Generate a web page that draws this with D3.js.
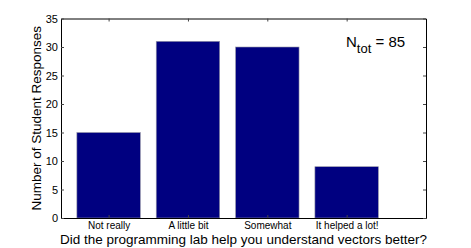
<!DOCTYPE html>
<html>
<head>
<meta charset="utf-8">
<script src="https://cdn.jsdelivr.net/npm/d3@7"></script>
<style>
  body { margin: 0; background: #fff; }
  text { font-family: "Liberation Sans", Arial, sans-serif; fill: #000; }
</style>
</head>
<body>
<svg id="chart" width="471" height="248"></svg>
<script>
// data
var categories = ['Not really', 'A little bit', 'Somewhat', 'It helped a lot!'];
var responses = [15, 31, 30, 9];
var yTicks = [0, 5, 10, 15, 20, 25, 30, 35];
var nTotal = 85;

var width = 471;
var height = 248;
var margin = {top: 18.5, right: 45, bottom: 30, left: 61};
var barWidth = 0.8;

var svg = d3.select('#chart');

var x = d3.scaleLinear()
    .domain([0.4, 5])
    .range([margin.left, width - margin.right]);

var y = d3.scaleLinear()
    .domain([0, 35])
    .range([height - margin.bottom, margin.top]);

// bars
svg.selectAll('rect.bar')
    .data(responses)
    .enter()
    .append('rect')
        .attr('class', 'bar')
        .attr('x', function (d, i) { return x(i + 1 - barWidth / 2); })
        .attr('y', function (d) { return y(d); })
        .attr('width', function (d, i) { return x(i + 1 + barWidth / 2) - x(i + 1 - barWidth / 2); })
        .attr('height', function (d) { return y(0) - y(d); })
        .attr('fill', '#000080')
        .attr('stroke', '#9a9aa8')
        .attr('stroke-width', 0.6);

// axes (ticks pointing inward, like matlab)
var xPos = categories.map(function (d, i) { return i + 1; });

var xBottom = svg.append('g')
    .attr('transform', 'translate(0,' + y(0) + ')')
    .call(d3.axisBottom(x).tickValues(xPos).tickSizeInner(-3).tickSizeOuter(0)
        .tickFormat(function (d) { return categories[d - 1]; }));
xBottom.selectAll('text').attr('dy', 0).attr('y', 11).style('font-size', '10px');

var xTop = svg.append('g')
    .attr('transform', 'translate(0,' + y(35) + ')')
    .call(d3.axisTop(x).tickValues(xPos).tickSizeInner(-3).tickSizeOuter(0).tickFormat(''));

var yLeft = svg.append('g')
    .attr('transform', 'translate(' + x(0.4) + ',0)')
    .call(d3.axisLeft(y).tickValues(yTicks).tickSizeInner(-3).tickSizeOuter(0));
yLeft.selectAll('text').attr('x', -3).style('font-size', '11px');

var yRight = svg.append('g')
    .attr('transform', 'translate(' + x(5) + ',0)')
    .call(d3.axisRight(y).tickValues(yTicks).tickSizeInner(-3).tickSizeOuter(0).tickFormat(''));

svg.selectAll('.domain').attr('stroke', '#000').attr('stroke-width', 1);
svg.selectAll('.tick line').attr('stroke', '#444');
svg.selectAll('.tick text').attr('font-family', '"Liberation Sans", Arial, sans-serif').attr('fill', '#000');

// axis labels
svg.append('text')
    .attr('text-anchor', 'middle')
    .attr('x', x(2.7))
    .attr('y', 244)
    .style('font-size', '13.5px')
    .text('Did the programming lab help you understand vectors better?');

svg.append('text')
    .attr('text-anchor', 'middle')
    .attr('transform', 'translate(41,' + y(17.5) + ') rotate(-90)')
    .style('font-size', '13.5px')
    .text('Number of Student Responses');

// N_tot annotation
var note = svg.append('text')
    .attr('x', 346)
    .attr('y', 47)
    .style('font-size', '15px');
note.append('tspan').text('N');
note.append('tspan').attr('dy', 6).style('font-size', '13px').text('tot');
note.append('tspan').attr('dy', -6).text(' = ' + nTotal);
</script>
</body>
</html>
